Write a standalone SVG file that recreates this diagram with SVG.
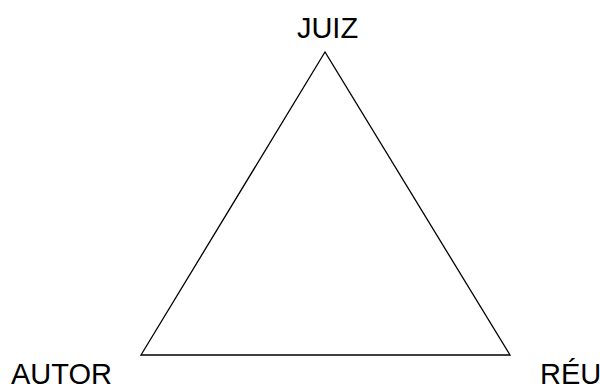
<svg xmlns="http://www.w3.org/2000/svg" width="600" height="385" viewBox="0 0 600 385">
<style>
text{font-family:"Liberation Sans",Arial,sans-serif;font-size:29px;fill:#000}
.edge{fill:none;stroke:#000;stroke-width:1.3}
</style>
<rect width="600" height="385" fill="#fff"/>
<g id="connectors">
<path class="edge" d="M325,52 L141,355 L510,355 Z"/>
</g>
<g id="juiz"><text x="327.5" y="37.5" text-anchor="middle">JUIZ</text></g>
<g id="autor"><text x="11" y="384">AUTOR</text></g>
<g id="reu"><text x="540" y="384">RÉU</text></g>
</svg>
